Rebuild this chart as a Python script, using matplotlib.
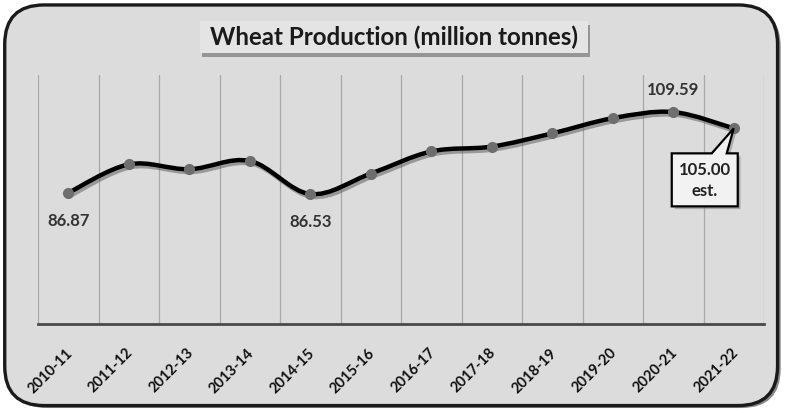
import matplotlib
matplotlib.use("Agg")
import matplotlib.pyplot as plt
from matplotlib.path import Path
from matplotlib.patches import PathPatch, FancyBboxPatch, Polygon, Rectangle
import matplotlib.patheffects as pe
import matplotlib.transforms as mtrans
import numpy as np

years = ["2010-11", "2011-12", "2012-13", "2013-14", "2014-15", "2015-16",
         "2016-17", "2017-18", "2018-19", "2019-20", "2020-21", "2021-22"]
production = [86.87, 94.88, 93.51, 95.85, 86.53, 92.29,
              98.51, 99.87, 103.60, 107.86, 109.59, 105.00]
labelled = {0: "86.87", 4: "86.53", 10: "109.59"}
title = "Wheat Production (million tonnes)"

FONT = "Lato"
BG = "#dcdcdc"
W, H = 787, 413

fig = plt.figure(figsize=(7.87, 4.13), dpi=100, facecolor="white")

# outer rounded frame with shadow
shadow = FancyBboxPatch((0.010, 0.012), 0.982, 0.970,
                        boxstyle="round,pad=0,rounding_size=0.05",
                        transform=fig.transFigure, fc="#888888", ec="none",
                        mutation_aspect=W/H, zorder=0)
frame = FancyBboxPatch((0.006, 0.018), 0.982, 0.970,
                       boxstyle="round,pad=0,rounding_size=0.05",
                       transform=fig.transFigure, fc=BG, ec="#1a1a1a", lw=2.4,
                       mutation_aspect=W/H, zorder=1)
fig.patches.extend([shadow, frame])

# title box
tbox = Rectangle((200/W, 1-53/H), 388/W, 32/H, transform=fig.transFigure,
                 fc="#e4e4e4", ec="none", zorder=2)
tbox.set_path_effects([pe.withSimplePatchShadow(offset=(1.5, -3),
                       shadow_rgbFace="#666666", alpha=0.6)])
fig.patches.append(tbox)
fig.text(394/W, 1-37/H, title, ha="center", va="center",
         fontsize=17.4, fontweight="bold", family=FONT, color="#1a1a1a", zorder=4)

ax = fig.add_axes([38/W, 1-324/H, (764-38)/W, (324-75)/H])
ax.set_zorder(3)
ax.set_facecolor("none")
ax.set_xlim(-0.5, len(years) - 0.5)
ax.set_ylim(50, 120)

for s in ["left", "right", "top"]:
    ax.spines[s].set_visible(False)
ax.spines["bottom"].set_color("#4a4a4a")
ax.spines["bottom"].set_linewidth(2.0)
ax.spines["bottom"].set_zorder(5)

# vertical gridlines between categories
ax.set_xticks(np.arange(-0.5, len(years), 1.0), minor=True)
ax.grid(True, which="minor", axis="x", color="#a8a8a8", lw=0.9)
ax.tick_params(which="both", length=0)
ax.set_yticks([])

x = np.arange(len(years))
ax.set_xticks(x)
ax.set_xticklabels(years, rotation=45, ha="right", va="top",
                   fontsize=10.5, fontweight="bold", family=FONT, color="#111111")
off = mtrans.ScaledTranslation(7/100, -17/100, fig.dpi_scale_trans)
for lab in ax.get_xticklabels():
    lab.set_transform(lab.get_transform() + off)

# smoothed line as cubic Bezier through the data points
pts = np.column_stack([x, production]).astype(float)
ext = np.vstack([pts[0], pts, pts[-1]])
verts = [tuple(pts[0])]
codes = [Path.MOVETO]
for i in range(len(pts) - 1):
    p0, p1, p2, p3 = ext[i], ext[i+1], ext[i+2], ext[i+3]
    c1 = p1 + (p2 - p0) / 6.0
    c2 = p2 - (p3 - p1) / 6.0
    verts += [tuple(c1), tuple(c2), tuple(p2)]
    codes += [Path.CURVE4, Path.CURVE4, Path.CURVE4]
curve = PathPatch(Path(verts, codes), fill=False, ec="black", lw=3.2,
                  capstyle="round", joinstyle="round", zorder=3,
                  transform=ax.transData)
curve.set_path_effects([pe.SimpleLineShadow(offset=(1.5, -2), shadow_color="#555555", alpha=0.5),
                        pe.Normal()])
ax.add_patch(curve)
ax.plot(x, production, linestyle="none", marker="o", ms=7,
        mfc="#6e6e6e", mec="#6e6e6e", zorder=4)

# data labels
label_offsets = {0: (0, -20), 4: (0, -20), 10: (0, 16)}
for i, txt in labelled.items():
    ax.annotate(txt, (x[i], production[i]), xytext=label_offsets[i], textcoords="offset points",
                ha="center", va="center", fontsize=12, fontweight="bold",
                family=FONT, color="#333333")

# callout for the estimate
last = len(years) - 1
ctr = mtrans.Affine2D().scale(fig.dpi / 72) + mtrans.ScaledTranslation(x[last], production[last], ax.transData)
k = 0.72  # px -> points at 100 dpi
shape = np.array([[-62, -25], [-22, -25], [0, 0], [-7, -25], [4, -25],
                  [4, -78], [-62, -78]]) * k
call = Polygon(shape, closed=True, fc="#f2f2f2", ec="black", lw=1.6,
               transform=ctr, zorder=6)
call.set_path_effects([pe.withSimplePatchShadow(offset=(2, -2), shadow_rgbFace="#777777", alpha=0.5)])
ax.add_patch(call)
ax.annotate("105.00\nest.", (x[last], production[last]), xytext=(-29*k, -52*k),
            textcoords="offset points", ha="center", va="center",
            fontsize=12, fontweight="bold", family=FONT, color="#222222",
            linespacing=1.35, zorder=7, annotation_clip=False)

fig.savefig("out.png", dpi=100, facecolor="white")
